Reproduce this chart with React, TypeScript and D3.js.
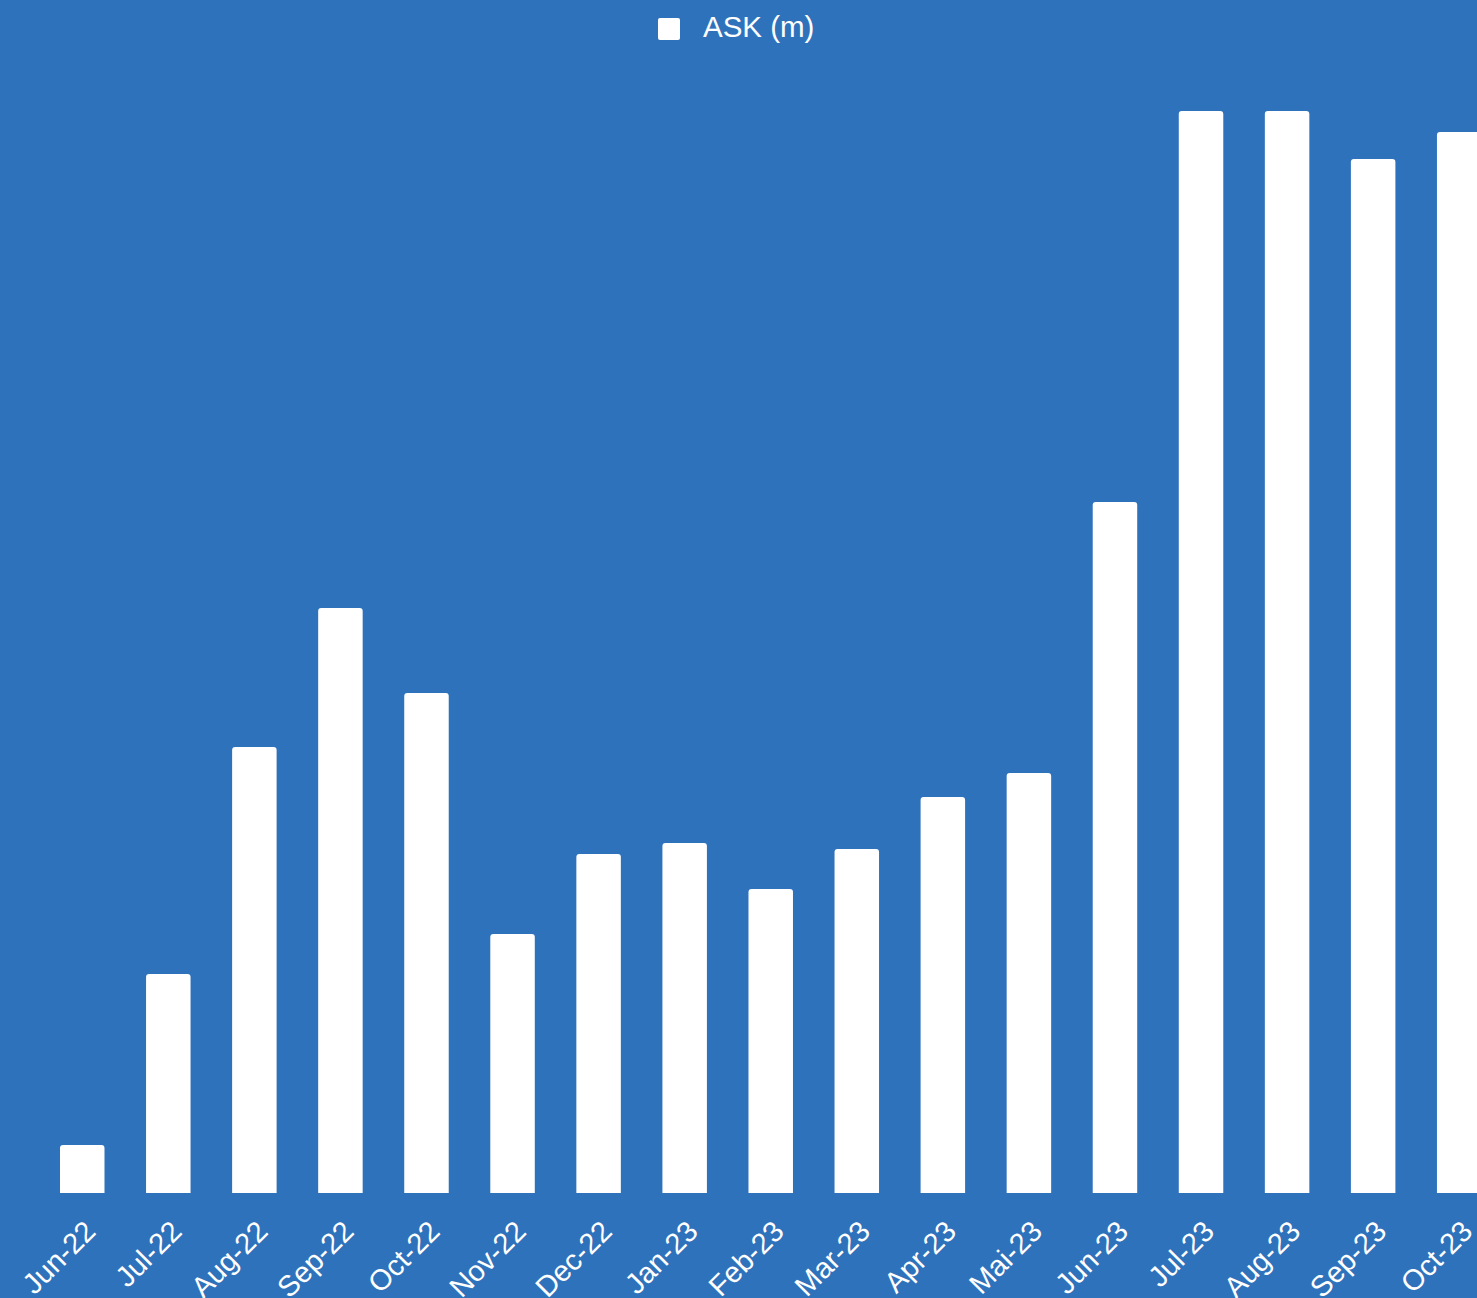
import React from "react";
import * as d3 from "d3";

const categories = ["Jun-22","Jul-22","Aug-22","Sep-22","Oct-22","Nov-22","Dec-22","Jan-23","Feb-23","Mar-23","Apr-23","Mai-23","Jun-23","Jul-23","Aug-23","Sep-23","Oct-23"];
const askValues = [48, 219, 446, 585, 500, 259, 339, 350, 304, 344, 396, 420, 691, 1082, 1082, 1034, 1061];
const seriesName = "ASK (m)";

const W = 1477, H = 1298;
const BG = "#2f72bc";

function topRoundedRect(x: number, y: number, w: number, h: number, r: number) {
  const rr = Math.min(r, h, w / 2);
  return `M${x},${y + h}V${y + rr}Q${x},${y} ${x + rr},${y}H${x + w - rr}Q${x + w},${y} ${x + w},${y + rr}V${y + h}Z`;
}

export default function App() {
  const step = 86.06;
  const r0 = 60 - step * 0.2415;
  const x = d3.scaleBand<string>().domain(categories).range([r0, r0 + step * categories.length]).paddingInner(0.483).paddingOuter(0.2415);
  const y = d3.scaleLinear().domain([0, 1100]).range([1193, 93]);
  const bw = x.bandwidth();
  return (
    <svg width={W} height={H} style={{ position: "absolute", left: 0, top: 0, fontFamily: "'Liberation Sans', Arial, sans-serif" }}>
      <rect x={0} y={0} width={W} height={H} fill={BG} />
      <g>
        <rect x={658} y={18} width={22} height={22} rx={2} fill="#fff" />
        <text x={703} y={37} fill="#fff" fontSize={29.5}>{seriesName}</text>
      </g>
      <g>
        {categories.map((c, i) => (
          <path key={c} d={topRoundedRect(x(c)!, y(askValues[i]), bw, y(0) - y(askValues[i]), 3)} fill="#fff" />
        ))}
      </g>
      <g>
        {categories.map((c) => {
          const cx = x(c)! + bw / 2;
          return (
            <text key={c} transform={`translate(${cx + 15},${1233}) rotate(-45)`} textAnchor="end" fill="#fff" fontSize={29}>{c}</text>
          );
        })}
      </g>
    </svg>
  );
}
